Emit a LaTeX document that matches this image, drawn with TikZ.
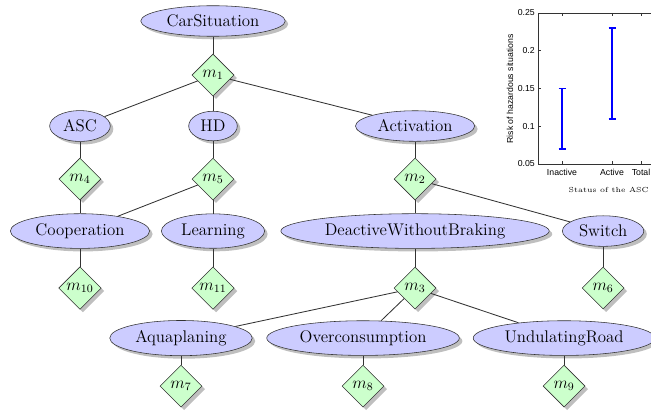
\documentclass[tikz,border=0pt]{standalone}
\usepackage{fontspec}
\newfontfamily\chartfont{Liberation Sans}
\usetikzlibrary{positioning,shapes.geometric,shadows}

\tikzset{
  situation/.style={ellipse, draw=black!80, fill=blue!20, drop shadow, font=\large},
  mass/.style={diamond, draw=black!80, fill=green!20, drop shadow, minimum size=1.05cm, inner sep=1pt, font=\large},
  link/.style={draw=black!80, semithick},
  errbar/.style={blue, line width=1.3pt},
}

\begin{document}
\begin{tikzpicture}[x=0.025cm, y=-0.025cm, on grid]
\useasboundingbox (0,0) rectangle (651,413);
\clip (0,0) rectangle (651,413);

% situations and masses
\node[situation] (car) at (213,21) {CarSituation};
\node[mass, below=1.35cm of car] (m1) {$m_1$};
\node[situation, below=1.275cm of m1] (hd) {HD};
\node[situation, left=3.325cm of hd] (asc) {ASC};
\node[situation, right=5.05cm of hd] (act) {Activation};
\node[mass, below=1.325cm of asc] (m4) {$m_4$};
\node[mass, below=1.325cm of hd] (m5) {$m_5$};
\node[mass, below=1.325cm of act] (m2) {$m_2$};
\node[situation, below=1.3cm of m4] (coop) {Cooperation};
\node[situation, below=1.3cm of m5] (learn) {Learning};
\node[situation, below=1.3cm of m2] (dwb) {DeactiveWithoutBraking};
\node[situation, right=4.7cm of dwb] (switch) {Switch};
\node[mass, below=1.425cm of coop] (m10) {$m_{10}$};
\node[mass, below=1.425cm of learn] (m11) {$m_{11}$};
\node[mass, below=1.425cm of dwb] (m3) {$m_3$};
\node[mass, below=1.425cm of switch] (m6) {$m_6$};
\node[situation, below left=1.25cm and 5.85cm of m3] (aqua) {Aquaplaning};
\node[situation, below left=1.25cm and 1.3cm of m3] (over) {Overconsumption};
\node[situation, below right=1.25cm and 3.725cm of m3] (undul) {UndulatingRoad};
\node[mass, below=1.2cm of aqua] (m7) {$m_7$};
\node[mass, below=1.2cm of over] (m8) {$m_8$};
\node[mass, below=1.2cm of undul] (m9) {$m_9$};

\foreach \a/\b in {car/m1, m1/asc, m1/hd, m1/act, asc/m4, hd/m5, act/m2,
    m4/coop, m5/coop, m5/learn, m2/dwb, m2/switch, coop/m10, learn/m11,
    dwb/m3, switch/m6, m3/aqua, m3/over, m3/undul, aqua/m7, over/m8, undul/m9}
  \draw[link] (\a) -- (\b);

% inset chart
\begin{scope}[font=\chartfont\fontsize{6.2}{7}\selectfont]
  \draw[black!80] (670,13) -- (538,13) -- (538,164) -- (670,164);
  \foreach \v/\yy [count=\i] in {0.05/164, 0.1/126.2, 0.15/88.5, 0.2/50.7, 0.25/13} {
    \draw[black!80] (538,\yy) -- ++(3,0);
    \node[anchor=east, inner sep=0pt] (ytick\i) at (535,\yy) {\v};
  }
  \foreach \lab/\xx [count=\i] in {Inactive/562, Active/612, Total/641} {
    \draw[black!80] (\xx,164) -- ++(0,-3) (\xx,13) -- ++(0,3);
    \node[inner sep=0pt] (xtick\i) at (\xx,172) {\lab};
  }
  \node[rotate=90, inner sep=0pt] (ylab) at (510,89) {Risk of hazardous situations};
  \node[anchor=east, inner sep=0pt, font=\fontsize{5.2}{6}\selectfont] (xlab) at (649,190) {Status of the ASC};
  \draw[errbar] (562,148.9) -- (562,88.5) (558.5,148.9) -- (565.5,148.9) (558.5,88.5) -- (565.5,88.5);
  \draw[errbar] (612,118.7) -- (612,28.1) (608.5,118.7) -- (615.5,118.7) (608.5,28.1) -- (615.5,28.1);
\end{scope}
\end{tikzpicture}
\end{document}
